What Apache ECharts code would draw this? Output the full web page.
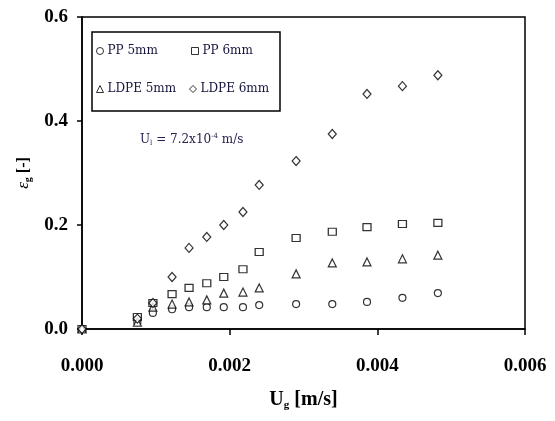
<!DOCTYPE html>
<html>
<head>
<meta charset="utf-8">
<script src="https://cdn.jsdelivr.net/npm/echarts@6/dist/echarts.min.js"></script>
<style>
  html, body { margin: 0; padding: 0; background: #fff; }
  #chart { width: 555px; height: 421px; }
</style>
</head>
<body>
<div id="chart"></div>
<script>
// gas velocity U_g [m/s]
var ug = [0, 0.00075, 0.00096, 0.00122, 0.00145, 0.00169, 0.00192, 0.00218, 0.0024, 0.0029, 0.00339, 0.00386, 0.00434, 0.00482];

// gas holdup for each particle
var pp5 = [0, 0.013, 0.031, 0.038, 0.042, 0.042, 0.042, 0.042, 0.046, 0.048, 0.048, 0.052, 0.06, 0.069];
var pp6 = [0, 0.023, 0.05, 0.067, 0.079, 0.088, 0.1, 0.115, 0.148, 0.175, 0.187, 0.196, 0.202, 0.204];
var ldpe5 = [0, 0.013, 0.042, 0.048, 0.052, 0.056, 0.069, 0.071, 0.079, 0.106, 0.127, 0.129, 0.135, 0.142];
var ldpe6 = [0, 0.02, 0.05, 0.1, 0.156, 0.177, 0.2, 0.225, 0.277, 0.323, 0.375, 0.452, 0.467, 0.488];

var names = ["PP 5mm", "PP 6mm", "LDPE 5mm", "LDPE 6mm"];
var symbols = ["circle", "rect", "triangle", "diamond"];
var sizes = [7, [8, 7], 8, [8, 9]];
var xTicks = [0, 0.002, 0.004, 0.006];
var yTicks = [0, 0.2, 0.4, 0.6];

function pairs(ys) {
  return ug.map(function (x, i) { return [x, ys[i]]; });
}

var serif = "'Liberation Serif', 'DejaVu Serif', serif";
var wide = "'DejaVu Serif', serif";
var chart = echarts.init(document.getElementById("chart"));

var legendPos = [[96, 45], [191, 45], [96, 83], [189, 83]];
var legends = names.map(function (n, i) {
  return {
    data: [n],
    left: legendPos[i][0],
    top: legendPos[i][1],
    padding: 0,
    itemWidth: 7,
    itemHeight: 7,
    itemGap: 0,
    itemStyle: { borderWidth: 1 },
    textStyle: { fontFamily: wide, fontSize: 12, color: "#14143c", padding: [0, 0, 0, -1] },
    selectedMode: false
  };
});

chart.setOption({
  backgroundColor: "#fff",
  animation: false,
  grid: {
    left: 82, right: 30, top: 17, bottom: 92,
    outerBoundsMode: "none",
    show: true, borderColor: "#000", borderWidth: 1.5
  },
  legend: legends,
  graphic: [
    {
      type: "rect",
      shape: { x: 92, y: 32, width: 188, height: 79 },
      style: { fill: "none", stroke: "#000", lineWidth: 1.5 }
    },
    {
      type: "text",
      left: 140,
      top: 133,
      style: {
        text: "{m|U}{s|l}{m| = 7.2x10}{p|-4}{m| m/s}",
        rich: {
          m: { fontFamily: wide, fontSize: 12, fill: "#2a2050" },
          s: { fontFamily: wide, fontSize: 7, fill: "#2a2050", padding: [7, 0, 0, 0] },
          p: { fontFamily: wide, fontSize: 7, fill: "#2a2050", padding: [0, 0, 7, 0] }
        }
      }
    }
  ],
  xAxis: {
    type: "value",
    min: 0, max: 0.006, interval: 0.002,
    name: "{b|U}{s|g}{b| [m/s]}",
    nameLocation: "middle",
    nameGap: 60,
    nameTextStyle: {
      rich: {
        b: { fontFamily: serif, fontWeight: "bold", fontSize: 20, color: "#000" },
        s: { fontFamily: serif, fontWeight: "bold", fontSize: 11, color: "#000", padding: [11, 0, 0, 0] }
      }
    },
    axisLine: { lineStyle: { color: "#000", width: 1.5 } },
    axisTick: { show: true, inside: false, length: 6, lineStyle: { color: "#000", width: 1.5 } },
    axisLabel: {
      margin: 28,
      fontFamily: serif, fontWeight: "bold", fontSize: 19, color: "#000",
      formatter: function (v) { return xTicks.indexOf(v) >= 0 ? v.toFixed(3) : ""; }
    },
    splitLine: { show: false }
  },
  yAxis: {
    type: "value",
    min: 0, max: 0.6, interval: 0.2,
    name: "{e|ε}{s|g}{b| [-]}",
    nameLocation: "middle",
    nameGap: 40,
    nameRotate: 90,
    nameTextStyle: {
      rich: {
        e: { fontFamily: serif, fontStyle: "italic", fontSize: 17, color: "#000" },
        s: { fontFamily: serif, fontWeight: "bold", fontSize: 10, color: "#000", padding: [9, 0, 0, 0] },
        b: { fontFamily: serif, fontWeight: "bold", fontSize: 16, color: "#000" }
      }
    },
    axisLine: { show: true, lineStyle: { color: "#000", width: 1.5 } },
    axisTick: { show: true, inside: false, length: 5, lineStyle: { color: "#000", width: 1.5 } },
    axisLabel: {
      margin: 14,
      fontFamily: serif, fontWeight: "bold", fontSize: 19, color: "#000",
      formatter: function (v) { return yTicks.indexOf(v) >= 0 ? v.toFixed(1) : ""; }
    },
    splitLine: { show: false }
  },
  series: [pp5, pp6, ldpe5, ldpe6].map(function (ys, i) {
    return {
      name: names[i],
      type: "scatter",
      symbol: symbols[i],
      symbolSize: sizes[i],
      data: pairs(ys),
      itemStyle: { color: "#fff", borderColor: "#000", borderWidth: 1.2 }
    };
  })
});
</script>
</body>
</html>
